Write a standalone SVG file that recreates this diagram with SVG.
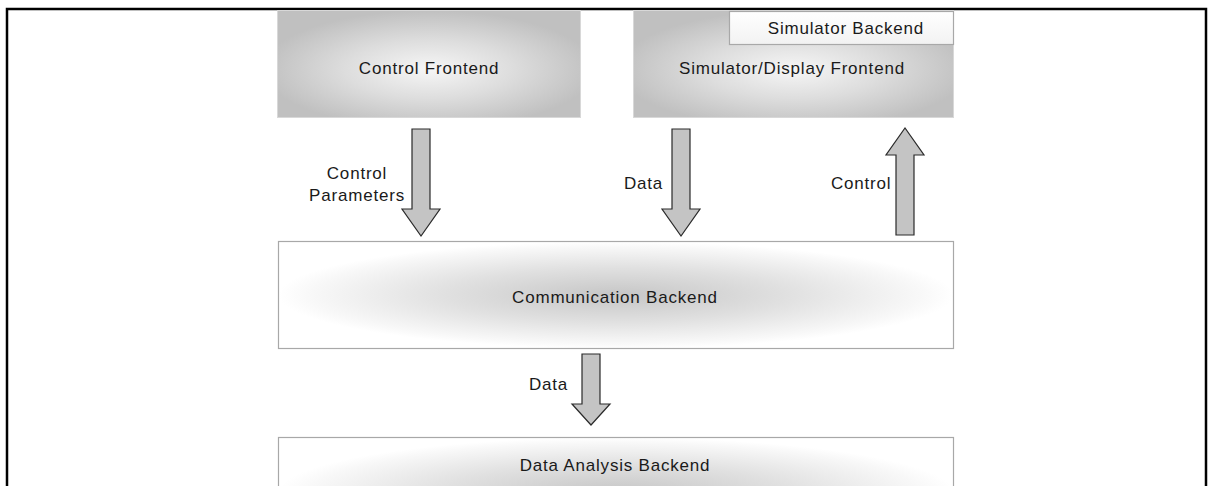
<svg xmlns="http://www.w3.org/2000/svg" width="1210" height="486" viewBox="0 0 1210 486">
  <style>
    text { font-family: "Liberation Sans", Arial, sans-serif; font-size: 17px; letter-spacing: 0.8px; fill: #1a1a1a; }
    .c { text-anchor: middle; }
    .front { fill: url(#gFront); stroke: #d8d8d8; stroke-width: 1; }
    .back { fill: url(#gBack); stroke: #a8a8a8; stroke-width: 1.2; }
    .inset { fill: url(#gInset); stroke: #a8a8a8; stroke-width: 1.2; }
    .arrow { fill: #c4c4c4; stroke: #2a2a2a; stroke-width: 1.2; stroke-linejoin: miter; }
    .frame { stroke: #000; stroke-width: 2.5; fill: none; }
  </style>
  <defs>
    <radialGradient id="gFront" cx="0.5" cy="0.55" r="0.55">
      <stop offset="0" stop-color="#f6f6f6"/>
      <stop offset="0.5" stop-color="#dddddd"/>
      <stop offset="1" stop-color="#c0c0c0"/>
    </radialGradient>
    <radialGradient id="gBack" cx="0.5" cy="0.5" r="0.5">
      <stop offset="0" stop-color="#c6c6c6"/>
      <stop offset="0.5" stop-color="#e0e0e0"/>
      <stop offset="0.9" stop-color="#f8f8f8"/>
      <stop offset="1" stop-color="#ffffff"/>
    </radialGradient>
    <linearGradient id="gInset" x1="0" y1="0" x2="0" y2="1">
      <stop offset="0" stop-color="#ffffff"/>
      <stop offset="1" stop-color="#f2f2f2"/>
    </linearGradient>
  </defs>

  <g id="frame">
    <polyline class="frame" points="7,486 7,9 1206,9 1206,486"/>
  </g>

  <g id="control-frontend">
    <rect class="front" x="277.5" y="10.5" width="303" height="107"/>
    <text class="c" x="429" y="74">Control Frontend</text>
  </g>

  <g id="simulator-display-frontend">
    <rect class="front" x="633.5" y="10.5" width="320" height="107"/>
    <text class="c" x="792" y="74">Simulator/Display Frontend</text>
  </g>

  <g id="simulator-backend">
    <rect class="inset" x="729.5" y="11.5" width="224" height="33"/>
    <text class="c" x="846" y="34">Simulator Backend</text>
  </g>

  <g id="communication-backend">
    <rect class="back" x="278.5" y="241.5" width="675" height="107"/>
    <text class="c" x="615" y="303">Communication Backend</text>
  </g>

  <g id="data-analysis-backend">
    <rect class="back" x="278.5" y="437.5" width="675" height="110"/>
    <text class="c" x="615" y="471">Data Analysis Backend</text>
  </g>

  <g id="connectors">
    <polygon class="arrow" points="412,129 430,129 430,209 440,209 421,236 402,209 412,209"/>
    <text class="c" x="357" y="179">Control</text>
    <text class="c" x="357" y="201">Parameters</text>

    <polygon class="arrow" points="672,129 690,129 690,209 700,209 681,236 662,209 672,209"/>
    <text x="624" y="189">Data</text>

    <polygon class="arrow" points="896,235 914,235 914,155 924,155 905,128 886,155 896,155"/>
    <text x="831" y="189">Control</text>

    <polygon class="arrow" points="582,354 600,354 600,404 610,404 591,425 572,404 582,404"/>
    <text x="529" y="390">Data</text>
  </g>
</svg>
